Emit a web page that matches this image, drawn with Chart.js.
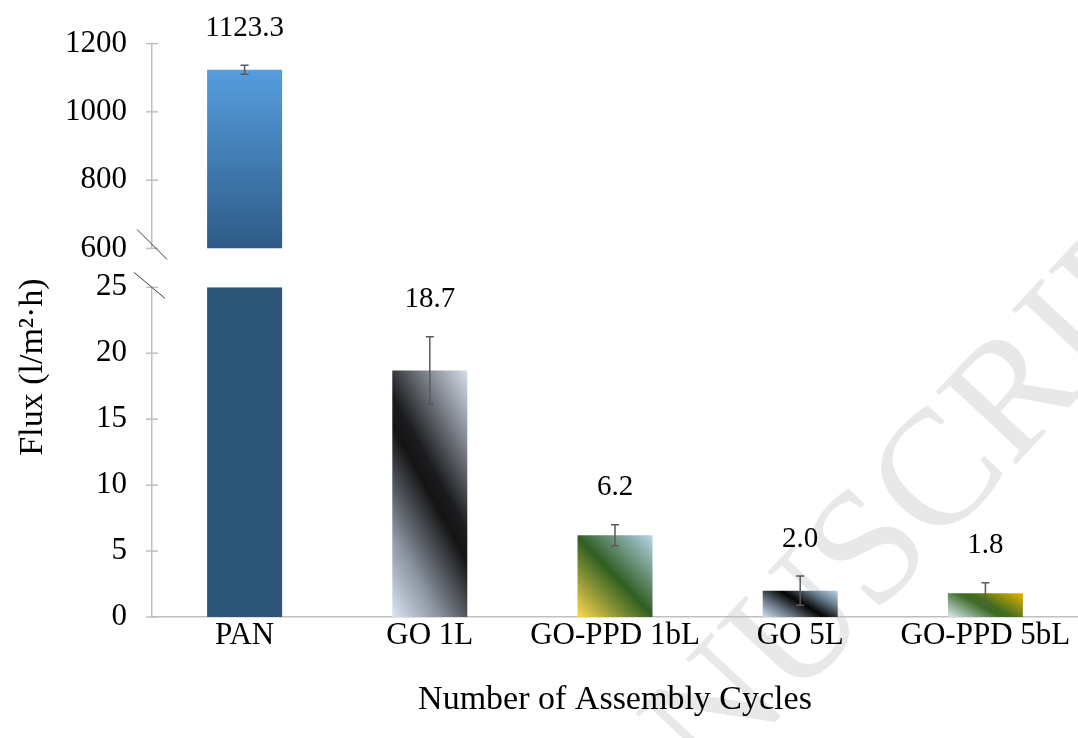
<!DOCTYPE html>
<html>
<head>
<meta charset="utf-8">
<script src="https://cdn.jsdelivr.net/npm/chart.js@4.4.1/dist/chart.umd.min.js"></script>
<style>
  html, body { margin: 0; padding: 0; background: #fff; }
  #wrap { width: 1078px; height: 738px; }
</style>
</head>
<body>
<div id="wrap"><canvas id="fluxChart" width="1078" height="738"></canvas></div>
<script>
// data
var categories = ["PAN", "GO 1L", "GO-PPD 1bL", "GO 5L", "GO-PPD 5bL"];
var fluxValues = [1123.3, 18.7, 6.2, 2.0, 1.8];
var fluxErrors = [13, 2.55, 0.8, 1.1, 0.8];
var upperTicks = [600, 800, 1000, 1200];
var lowerTicks = [0, 5, 10, 15, 20, 25];

var upperMin = upperTicks[0], upperMax = upperTicks[upperTicks.length - 1];
var lowerMin = lowerTicks[0], lowerMax = lowerTicks[lowerTicks.length - 1];

// fills (style only)
var CAT_PCT = 0.405;
var panTop = ["#559ddf", "#2e5b86"];
var panSolid = "#2c5578";
var barFills = [
  null,
  [[0, "#d9e5f2"], [0.22, "#8c95a2"], [0.5, "#141414"], [0.58, "#1b1c1f"], [0.8, "#80868f"], [1, "#d6deeb"]],
  [[0, "#ffd84f"], [0.5, "#2f5e21"], [1, "#b8d5ec"]],
  [[0, "#cfe0f1"], [0.25, "#6f7d8b"], [0.52, "#050505"], [0.78, "#6d8191"], [1, "#bcd6ec"]],
  [[0, "#dde9f3"], [0.45, "#3b6b27"], [0.55, "#426d1f"], [1, "#e6b400"]]
];

Chart.defaults.font.family = "'Liberation Serif', 'Times New Roman', serif";
Chart.defaults.color = "#000";

function barBox(chart, i, lo, hi, scaleId) {
  var xs = chart.scales.x, ys = chart.scales[scaleId];
  var cx = xs.getPixelForValue(i);
  var w = xs.width / categories.length * CAT_PCT;
  return { x0: cx - w / 2, w: w, top: ys.getPixelForValue(hi), base: ys.getPixelForValue(lo) };
}

function diagFill(ctx, b, stops) {
  var h = b.base - b.top, w = b.w;
  var a = Math.sqrt(h), c = Math.sqrt(w);
  var k = (w * a + h * c) / (a * a + c * c);
  var g = ctx.createLinearGradient(b.x0, b.base, b.x0 + a * k, b.base - c * k);
  stops.forEach(function (s) { g.addColorStop(s[0], s[1]); });
  return g;
}

var topData = fluxValues.map(function (v) { return v > lowerMax ? [upperMin, v] : null; });
var lowData = fluxValues.map(function (v) { return v > lowerMax ? [lowerMin, lowerMax] : v; });

var valueFont = "29px 'Liberation Serif', 'Times New Roman', serif";

var extras = {
  id: "extras",
  beforeDraw: function (chart) {
    // faint "accepted manuscript" watermark behind the plot
    var ctx = chart.ctx;
    ctx.save();
    ctx.translate(530, 985);
    ctx.rotate(-0.82);
    ctx.font = "165px 'Liberation Serif', 'Times New Roman', serif";
    ctx.fillStyle = "#e8e8e8";
    ctx.textBaseline = "alphabetic";
    ctx.fillText("MANUSCRIPT", 0, 0);
    ctx.restore();
  },
  afterDatasetsDraw: function (chart) {
    var ctx = chart.ctx;
    ctx.save();
    fluxValues.forEach(function (v, i) {
      var ys = v > lowerMax ? chart.scales.yTop : chart.scales.yBot;
      var x = chart.scales.x.getPixelForValue(i);
      var e = fluxErrors[i];
      var yHi = ys.getPixelForValue(v + e), yLo = ys.getPixelForValue(v - e);
      ctx.strokeStyle = "#5a5a5a";
      ctx.lineWidth = 1.5;
      ctx.beginPath();
      ctx.moveTo(x, yHi); ctx.lineTo(x, yLo);
      ctx.moveTo(x - 4, yHi); ctx.lineTo(x + 4, yHi);
      ctx.moveTo(x - 4, yLo); ctx.lineTo(x + 4, yLo);
      ctx.stroke();
      ctx.fillStyle = "#000";
      ctx.font = valueFont;
      ctx.textAlign = "center";
      ctx.textBaseline = "middle";
      ctx.fillText(v.toFixed(1), x, yHi - 37);
    });
    ctx.restore();
  },
  afterDraw: function (chart) {
    var ctx = chart.ctx;
    ctx.save();
    ["yTop", "yBot"].forEach(function (id) {
      var s = chart.scales[id];
      ctx.strokeStyle = "#bfbfbf";
      ctx.lineWidth = 1.5;
      s.ticks.forEach(function (t) {
        var y = s.getPixelForValue(t.value);
        ctx.beginPath(); ctx.moveTo(s.right - 6, y); ctx.lineTo(s.right + 6, y); ctx.stroke();
      });
    });
    // axis break marks
    var t = chart.scales.yTop, b = chart.scales.yBot;
    ctx.strokeStyle = "#404040";
    ctx.lineWidth = 1;
    ctx.beginPath();
    ctx.moveTo(t.right - 15, t.bottom - 19); ctx.lineTo(t.right + 15, t.bottom + 11);
    ctx.moveTo(b.right - 18, b.top - 15); ctx.lineTo(b.right + 13, b.top + 11);
    ctx.stroke();
    // y axis title
    ctx.translate(33, 367);
    ctx.rotate(-Math.PI / 2);
    ctx.font = "34px 'Liberation Serif', 'Times New Roman', serif";
    ctx.fillStyle = "#000";
    ctx.textAlign = "center";
    ctx.textBaseline = "middle";
    ctx.fillText("Flux (l/m\u00b2\u00b7h)", 0, 0);
    ctx.restore();
  }
};

var fitLeft = function (s) { s.width = 152; };
var plainTick = function (v) { return String(v); };

new Chart(document.getElementById("fluxChart"), {
  type: "bar",
  data: {
    labels: categories,
    datasets: [
      {
        label: "upper",
        data: topData,
        yAxisID: "yTop",
        grouped: false,
        barPercentage: 1,
        categoryPercentage: CAT_PCT,
        backgroundColor: function (c) {
          var chart = c.chart;
          if (!chart.chartArea || c.type !== "data") return panTop[1];
          var b = barBox(chart, c.dataIndex, upperMin, fluxValues[c.dataIndex], "yTop");
          var g = chart.ctx.createLinearGradient(0, b.top, 0, b.base);
          g.addColorStop(0, panTop[0]);
          g.addColorStop(1, panTop[1]);
          return g;
        }
      },
      {
        label: "lower",
        data: lowData,
        yAxisID: "yBot",
        grouped: false,
        barPercentage: 1,
        categoryPercentage: CAT_PCT,
        backgroundColor: function (c) {
          var chart = c.chart;
          if (!chart.chartArea || c.type !== "data") return panSolid;
          var i = c.dataIndex;
          if (!barFills[i]) return panSolid;
          var b = barBox(chart, i, lowerMin, Math.min(fluxValues[i], lowerMax), "yBot");
          return diagFill(chart.ctx, b, barFills[i]);
        }
      }
    ]
  },
  options: {
    responsive: false,
    devicePixelRatio: 1,
    animation: false,
    layout: { padding: { top: 43, left: 0, right: 0, bottom: 0 } },
    plugins: { legend: { display: false }, tooltip: { enabled: false } },
    scales: {
      x: {
        grid: { display: false, drawTicks: false },
        border: { display: true, color: "#bfbfbf", width: 1.5 },
        ticks: { font: { size: 31 }, padding: 0, maxRotation: 0, autoSkip: false },
        title: {
          display: true, text: "Number of Assembly Cycles",
          font: { size: 34 }, padding: { top: 0, bottom: 18 }
        },
        afterFit: function (s) { s.height = 121; }
      },
      yTop: {
        type: "linear", position: "left", stack: "flux", stackWeight: 205, weight: 3,
        min: upperMin, max: upperMax,
        afterBuildTicks: function (s) { s.ticks = upperTicks.map(function (v) { return { value: v }; }); },
        grid: { display: false, drawTicks: false },
        border: { color: "#bfbfbf", width: 1.5 },
        ticks: { font: { size: 31 }, padding: 25, autoSkip: false, callback: plainTick },
        afterFit: fitLeft
      },
      yGap: {
        type: "linear", position: "left", stack: "flux", stackWeight: 39, weight: 2,
        grid: { display: false, drawTicks: false },
        border: { display: false },
        ticks: { display: false },
        afterFit: fitLeft
      },
      yBot: {
        type: "linear", position: "left", stack: "flux", stackWeight: 330, weight: 1,
        min: lowerMin, max: lowerMax,
        afterBuildTicks: function (s) { s.ticks = lowerTicks.map(function (v) { return { value: v }; }); },
        grid: { display: false, drawTicks: false },
        border: { color: "#bfbfbf", width: 1.5 },
        ticks: { font: { size: 31 }, padding: 25, autoSkip: false, callback: plainTick },
        afterFit: fitLeft
      }
    }
  },
  plugins: [extras]
});
</script>
</body>
</html>
